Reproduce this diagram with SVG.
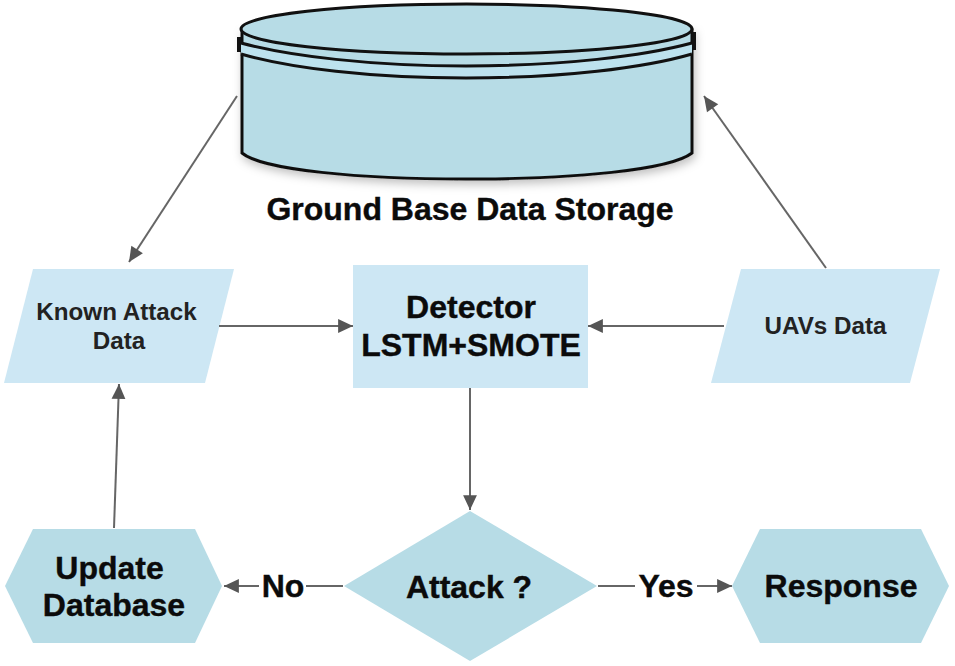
<svg xmlns="http://www.w3.org/2000/svg" width="955" height="666" viewBox="0 0 955 666">
<style>
text{font-family:"Liberation Sans",Arial,sans-serif;font-weight:bold;text-anchor:middle;fill:#0b0b0b}
.big{font-size:32px;stroke:#0b0b0b;stroke-width:.4px}
.small{font-size:24.200px;fill:#222}
.dark{fill:#b7dce6}
.light{fill:#cde7f4}
.cyl{fill:#b7dce6;stroke:#111;stroke-width:3}
.ring{fill:none;stroke:#111;stroke-width:3}
.con{fill:none;stroke:#666;stroke-width:2;marker-end:url(#arr)}
.plain{fill:none;stroke:#666;stroke-width:2}
</style>
<defs>
<marker id="arr" markerUnits="userSpaceOnUse" markerWidth="17" markerHeight="17" viewBox="0 0 16 16" refX="15" refY="8" orient="auto"><path d="M1 1.500L15 8L1 14.500Z" fill="#555"/></marker>
<filter id="sh" x="-5%" y="-10%" width="110%" height="125%"><feDropShadow dx="2" dy="4" stdDeviation="5" flood-color="#000" flood-opacity=".25"/></filter>
</defs>
<g id="storage">
<path class="cyl" filter="url(#sh)" d="M242 30V153C262 170 360 179 466 179C575 179 670 170 692 153V30Z"/>
<path d="M241 43C290 56 370 66 466 66C562 66 644 56 692 43V54C644 68 562 78 466 78C370 78 290 68 241 54Z" fill="#bde2ee"/>
<path class="ring" d="M241 43C290 56 370 66 466 66C562 66 644 56 692 43"/>
<path class="ring" d="M241 54C290 68 370 78 466 78C562 78 644 68 692 54"/>
<ellipse class="cyl" cx="466.500" cy="29" rx="225.500" ry="25"/>
<path d="M239 37V52M694 32V50" fill="none" stroke="#111" stroke-width="4"/>
<text class="big" x="470" y="220">Ground Base Data Storage</text>
</g>
<g id="known">
<path class="light" d="M33 269H234L205 383H4Z"/>
<text class="small" x="116.500" y="320">Known Attack</text>
<text class="small" x="119" y="349">Data</text>
</g>
<g id="detector">
<rect class="light" x="353" y="265" width="235" height="123"/>
<text class="big" x="471" y="318">Detector</text>
<text class="big" x="471" y="356">LSTM+SMOTE</text>
</g>
<g id="uavs">
<path class="light" d="M741 269H940L910 383H711Z"/>
<text class="small" x="825.500" y="334">UAVs Data</text>
</g>
<g id="update">
<path class="dark" d="M33 529H195L222 586L195 643H33L5 586Z"/>
<text class="big" x="109.500" y="579">Update</text>
<text class="big" x="114" y="616">Database</text>
</g>
<g id="attack">
<path class="dark" d="M470 511L597 586L470 661L344 586Z"/>
<text class="big" x="469" y="598">Attack ?</text>
</g>
<g id="response">
<path class="dark" d="M760 529H921L949 586L921 643H760L732 586Z"/>
<text class="big" x="841" y="597">Response</text>
</g>
<g id="connectors">
<path class="con" d="M237 96L129 262"/>
<path class="con" d="M826 268L704 96"/>
<path class="con" d="M219 326H353"/>
<path class="con" d="M724 326H588"/>
<path class="con" d="M470 388V510"/>
<path class="con" d="M114 528L119 384"/>
<path class="plain" d="M343 586H306"/>
<path class="con" d="M259 586H224"/>
<path class="plain" d="M598 586H635"/>
<path class="con" d="M697 586H732"/>
</g>
<g id="labels">
<text class="big" x="283" y="597">No</text>
<text class="big" x="666" y="597">Yes</text>
</g>
</svg>
